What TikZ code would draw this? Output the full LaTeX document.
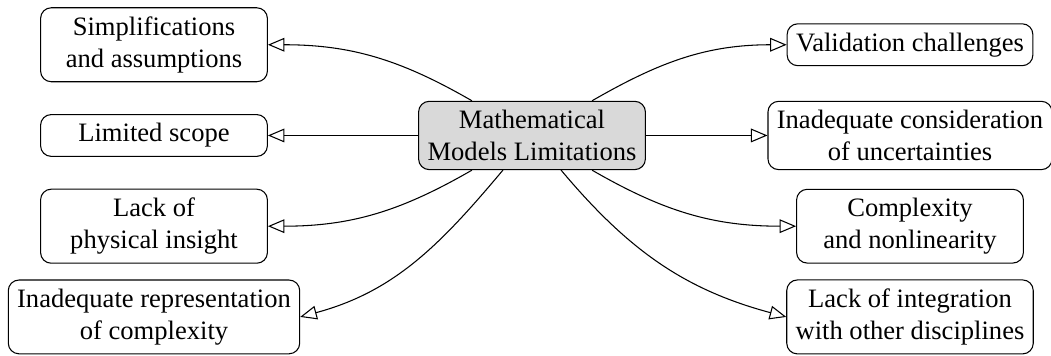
\documentclass[tikz,border=0pt]{standalone}
\usepackage{fontspec}
\setmainfont{Liberation Serif}
\usetikzlibrary{arrows}
\begin{document}
\begin{tikzpicture}[
  box/.style={draw, rounded corners=4pt, align=center, minimum width=3cm, font=\fontsize{10}{12}\selectfont},
  hub/.style={box, fill=gray!30},
  arr/.style={-open triangle 45}
]
\useasboundingbox (-7.037,-2.917) rectangle (6.865,1.792);
\node[hub] (c) at (0,0) {Mathematical\\Models Limitations};
\node[box] (l1) at (-5,1.2) {Simplifications\\and assumptions};
\node[box] (l2) at (-5,0) {Limited scope};
\node[box] (l3) at (-5,-1.2) {Lack of\\physical insight};
\node[box] (l4) at (-5,-2.4) {Inadequate representation\\of complexity};
\node[box] (r1) at (5,1.2) {Validation challenges};
\node[box] (r2) at (5,0) {Inadequate consideration\\of uncertainties};
\node[box] (r3) at (5,-1.2) {Complexity\\and nonlinearity};
\node[box] (r4) at (5,-2.4) {Lack of integration\\with other disciplines};
\draw[arr] (c) to[out=150,in=0] (l1.east);
\draw[arr] (c) -- (l2);
\draw[arr] (c) to[out=210,in=0] (l3.east);
\draw[arr] (c) to[out=230,in=15] (l4.east);
\draw[arr] (c) to[out=30,in=180] (r1.west);
\draw[arr] (c) -- (r2);
\draw[arr] (c) to[out=-30,in=180] (r3.west);
\draw[arr] (c) to[out=-50,in=165] (r4.west);
\end{tikzpicture}
\end{document}
